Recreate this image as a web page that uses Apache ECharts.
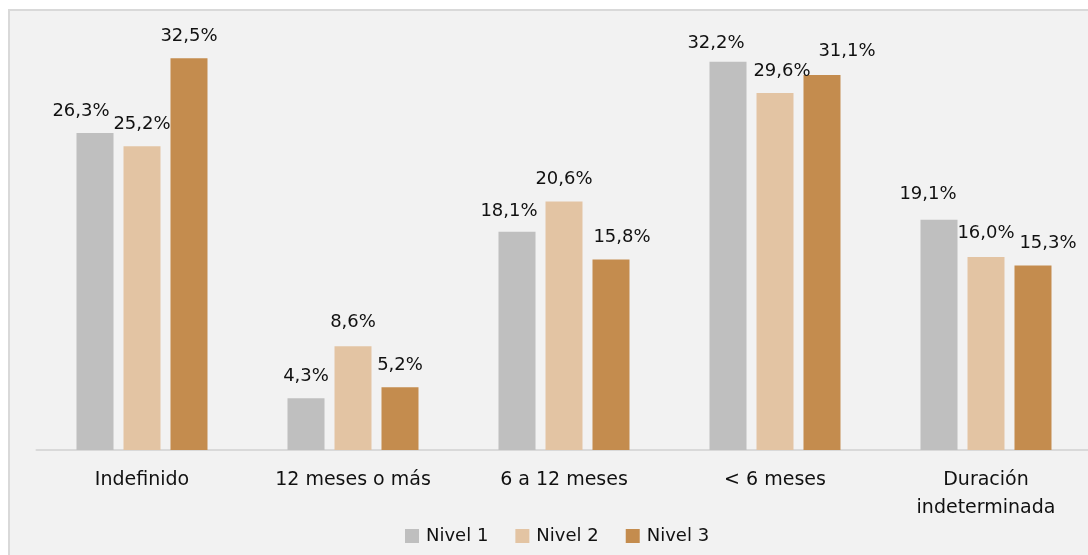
<!DOCTYPE html>
<html>
<head>
<meta charset="utf-8">
<script src="https://cdn.jsdelivr.net/npm/echarts@6/dist/echarts.min.js"></script>
<style>
html,body{margin:0;padding:0;background:#ffffff;overflow:hidden;width:1088px;height:555px;}
#box{position:absolute;left:8px;top:9px;width:1200px;height:700px;background:#f2f2f2;border-left:2px solid #d9d9d9;border-top:2px solid #d9d9d9;}
#chart{position:absolute;left:0;top:0;width:1110px;height:555px;}
</style>
</head>
<body>
<div id="box"></div>
<div id="chart"></div>
<script>
const categories = ['Indefinido', '12 meses o más', '6 a 12 meses', '< 6 meses', 'Duración\nindeterminada'];
const seriesNames = ['Nivel 1', 'Nivel 2', 'Nivel 3'];
const nivel1 = [26.3, 4.3, 18.1, 32.2, 19.1];
const nivel2 = [25.2, 8.6, 20.6, 29.6, 16.0];
const nivel3 = [32.5, 5.2, 15.8, 31.1, 15.3];
// label nudges (Excel-style overlap avoidance), in px
const labelShift1 = [[-14, 0], [0, 0], [-8, 2], [-12, 4], [-11, -3]];
const labelShift2 = [[0, 0], [0, -2], [0, 0], [7, 0], [0, -2]];
const labelShift3 = [[0, 0], [0, 0], [11, 0], [25, -2], [15, 0]];
const colors = ['#bfbfbf', '#e3c4a3', '#c48c4e'];

const FONT = 'DejaVu Sans';
function fmt(v) { return v.toFixed(1).replace('.', ',') + '%'; }
function mk(name, vals, shifts, color) {
  return {
    name: name,
    type: 'bar',
    barWidth: 37,
    barGap: '27%',
    itemStyle: { color: color },
    label: {
      show: true, position: 'top', distance: 13,
      fontFamily: FONT, fontSize: 18, color: '#111111',
      formatter: p => fmt(p.value)
    },
    data: vals.map((v, i) => ({ value: v, label: { offset: shifts[i] } }))
  };
}

const chart = echarts.init(document.getElementById('chart'), null, { renderer: 'canvas' });
chart.setOption({
  backgroundColor: 'transparent',
  animation: false,
  grid: { left: 36.5, width: 1055, top: 28, bottom: 105, containLabel: false },
  legend: {
    left: 405, top: 527, padding: 0,
    itemWidth: 14, itemHeight: 14, itemGap: 27,
    icon: 'rect',
    textStyle: { fontFamily: FONT, fontSize: 18, color: '#111111', padding: [0, 0, 0, 2] },
    data: seriesNames
  },
  xAxis: {
    type: 'category',
    data: categories,
    axisLine: { lineStyle: { color: '#d9d9d9', width: 2 } },
    axisTick: { show: false },
    axisLabel: { fontFamily: FONT, fontSize: 19, color: '#111111', margin: 16, lineHeight: 28, interval: 0 }
  },
  yAxis: {
    type: 'value', min: 0, max: 35, show: false,
    splitLine: { show: false }
  },
  series: [
    mk(seriesNames[0], nivel1, labelShift1, colors[0]),
    mk(seriesNames[1], nivel2, labelShift2, colors[1]),
    mk(seriesNames[2], nivel3, labelShift3, colors[2])
  ]
});
</script>
</body>
</html>
